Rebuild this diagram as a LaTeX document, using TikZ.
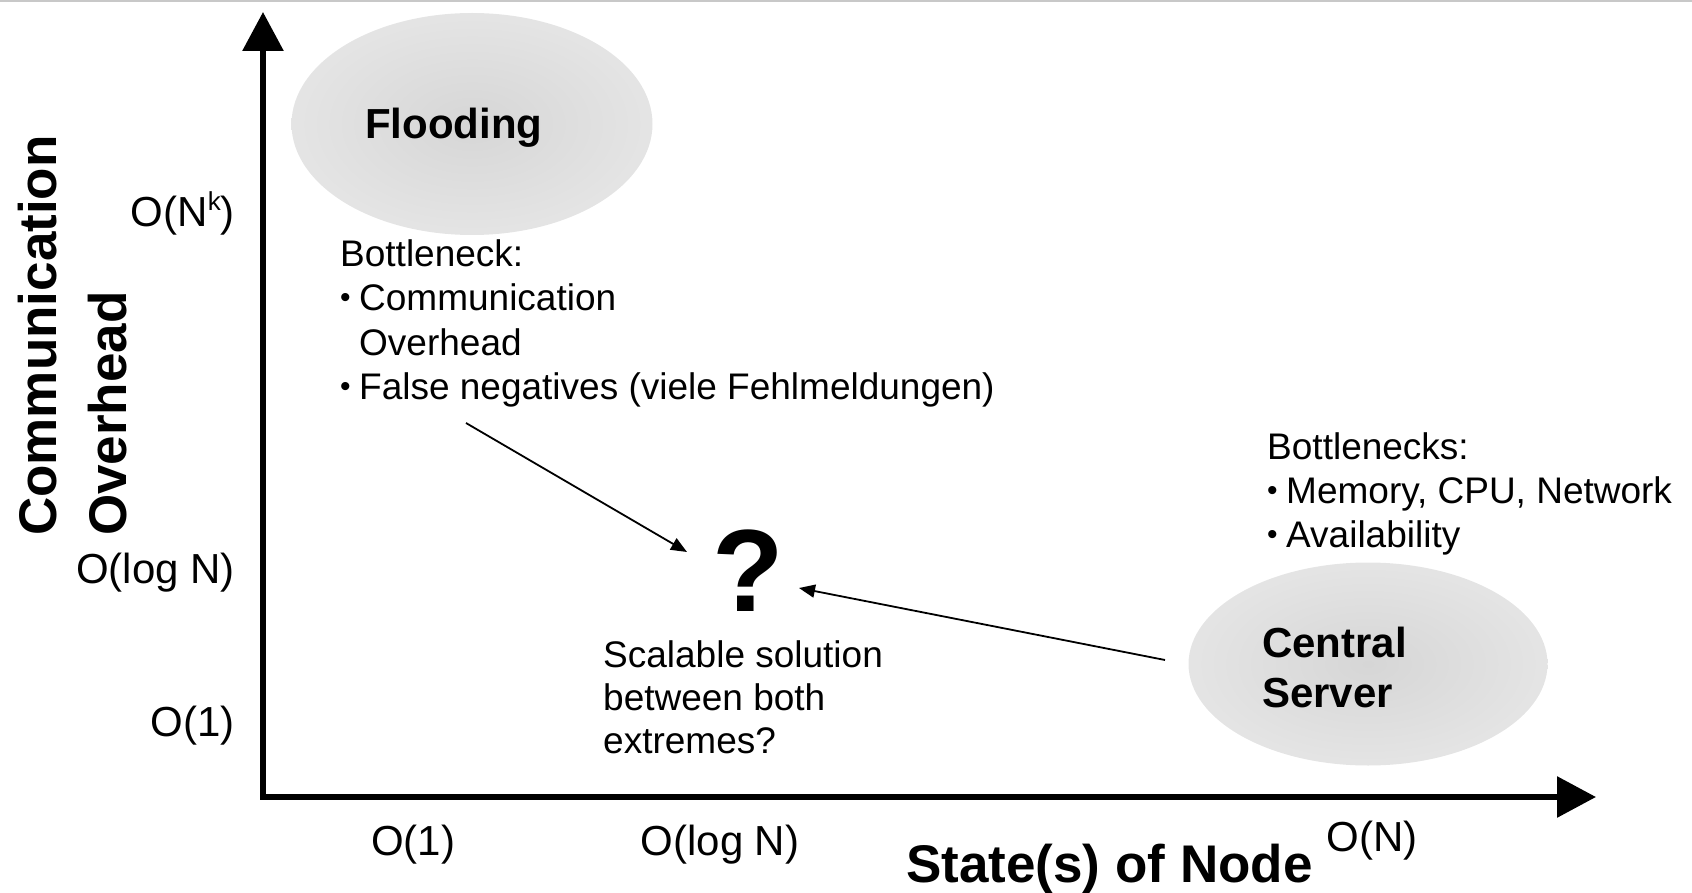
\documentclass[tikz,border=0pt]{standalone}
\usepackage{fontspec}
\setmainfont{Liberation Sans}
\usetikzlibrary{arrows.meta,shapes.geometric}
\definecolor{ellin}{RGB}{214,214,214}
\definecolor{ellout}{RGB}{243,243,243}
\definecolor{topline}{RGB}{200,200,200}
\pgfdeclareradialshading{ellshade}{\pgfpoint{0bp}{0bp}}{color(0bp)=(ellin); color(50bp)=(ellout)}
\newcommand{\bul}{\makebox[19pt][l]{\fontsize{30}{30}\selectfont\raisebox{3pt}{•}}}
\begin{document}
\begin{tikzpicture}[x=1pt,y=-1pt,
  body/.style={inner sep=0pt, anchor=base west, font=\fontsize{37}{44}\selectfont},
  ticklab/.style={inner sep=0pt, font=\fontsize{42}{50}\selectfont},
  title/.style={inner sep=0pt, anchor=base west, font=\fontsize{53}{60}\selectfont\bfseries},
  ovaltext/.style={inner sep=0pt, anchor=base west, font=\fontsize{42}{50}\selectfont\bfseries},
  blob/.style={ellipse, draw=none, shading=ellshade, inner sep=0pt},
  axisline/.style={line width=6pt, -{Triangle[length=39pt,width=40pt]}},
  conn/.style={line width=1.8pt, -{Triangle[length=16pt,width=13pt]}}]
\useasboundingbox (0,0) rectangle (1692,893);
\fill[topline] (0,0) rectangle (1692,2.5);
% ellipses
\node[blob, minimum width=361pt, minimum height=222pt] (flood) at (472,124) {};
\node[blob, minimum width=359pt, minimum height=203pt] (server) at (1368,664) {};
% axes
\coordinate (O) at (263,797);
\coordinate (ytip) at (263,12);
\coordinate (xtip) at (1596,797);
\draw[axisline] (O) -- (ytip);
\draw[axisline] ([xshift=-3pt]O) -- (xtip);
% oval texts
\node[ovaltext] (floodtxt) at (365,139) {Flooding};
\node[ovaltext] (central) at (1262,657) {Central};
\node[ovaltext] (serv) at (1262,707) {Server};
% flooding bottleneck
\node[body] (b1) at (340,267) {Bottleneck:};
\node[body] (b2) at (340,311) {\bul Communication};
\node[body] (b3) at (359,355) {Overhead};
\node[body] (b4) at (340,399) {\bul False negatives (viele Fehlmeldungen)};
% server bottlenecks
\node[body] (r1) at (1267,459) {Bottlenecks:};
\node[body] (r2) at (1267,503) {\bul Memory, CPU, Network};
\node[body] (r3) at (1267,547) {\bul Availability};
% question
\node[inner sep=0pt, font=\fontsize{117}{117}\selectfont\bfseries] (q) at (748,571) {?};
\node[body] (s1) at (603,667) {Scalable solution};
\node[body] (s2) at (603,710) {between both};
\node[body] (s3) at (603,753) {extremes?};
% tick labels
\node[ticklab, anchor=east] (yk) at (235,213) {O(N\raisebox{0.38em}{\fontsize{26}{26}\selectfont k})};
\node[ticklab, anchor=east] (ylog) at (235,573) {O(log N)};
\node[ticklab, anchor=east] (y1) at (235,726) {O(1)};
\node[ticklab] (x1) at (413,845) {O(1)};
\node[ticklab] (xlog) at (720,845) {O(log N)};
\node[ticklab] (xn) at (1372,841) {O(N)};
% titles
\node[title] (xt) at (906,882) {State(s) of Node};
\node[title, rotate=90] (yt1) at (56,536) {Communication};
\node[title, rotate=90] (yt2) at (126,536) {Overhead};
% connectors
\coordinate (a1s) at (466,423);
\coordinate (a1e) at (687,552);
\draw[conn] (a1s) -- (a1e);
\coordinate (a2s) at (1165,660);
\coordinate (a2e) at (799,588);
\draw[conn] (a2s) -- (a2e);
\end{tikzpicture}
\end{document}
